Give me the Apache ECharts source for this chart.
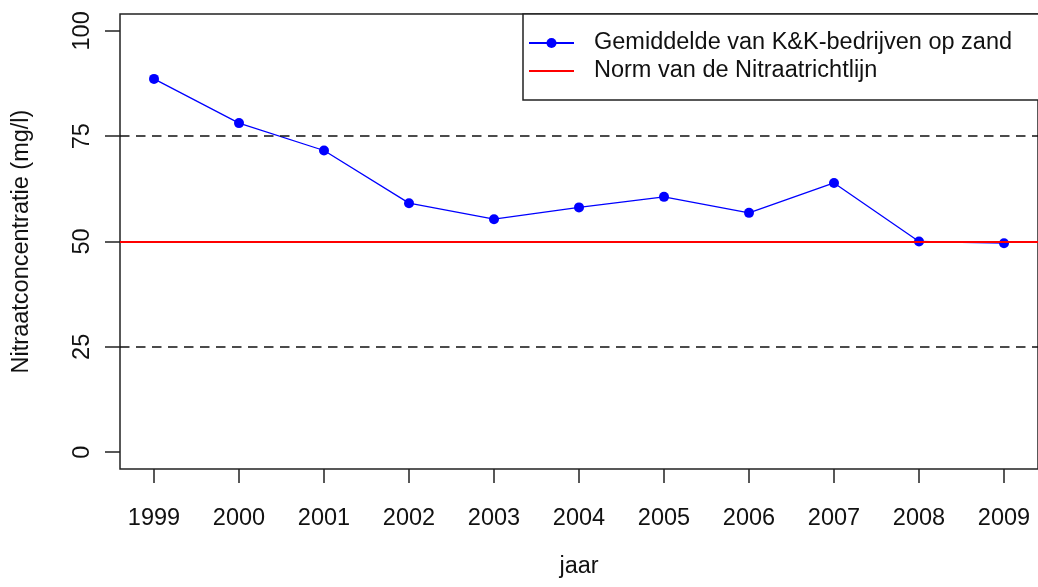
<!DOCTYPE html>
<html>
<head>
<meta charset="utf-8">
<script src="https://cdn.jsdelivr.net/npm/echarts@6/dist/echarts.min.js"></script>
<style>
html, body { margin: 0; padding: 0; background: #fff; }
#chart { width: 1038px; height: 587px; }
</style>
</head>
<body>
<div id="chart"></div>
<script>
// data
const years = [1999, 2000, 2001, 2002, 2003, 2004, 2005, 2006, 2007, 2008, 2009];
const nitrate = [88.6, 78.1, 71.6, 59.1, 55.3, 58.1, 60.6, 56.8, 63.9, 50.0, 49.6];
const normValue = 50;
const refLines = [25, 75];
const yTicks = [0, 25, 50, 75, 100];
const seriesNames = ['Gemiddelde van K&K-bedrijven op zand', 'Norm van de Nitraatrichtlijn'];

const font = '"Liberation Sans", Arial, sans-serif';
const ink = '#111';

const chart = echarts.init(document.getElementById('chart'));

chart.setOption({
    animation: false,
    textStyle: { fontFamily: font },
    grid: {
        left: 120,
        top: 14,
        width: 920,
        height: 455,
        show: true,
        borderColor: '#222',
        borderWidth: 1.5
    },
    legend: {
        data: [
            { name: seriesNames[0] },
            { name: seriesNames[1], icon: 'path://M0,0 L45,0 L45,2 L0,2 Z' }
        ],
        orient: 'vertical',
        left: 523,
        top: 14,
        itemWidth: 45,
        itemHeight: 12.5,
        itemGap: 4,
        padding: [17, 40, 17, 5],
        borderColor: '#222',
        borderWidth: 1.5,
        backgroundColor: '#fff',
        textStyle: {
            fontSize: 23.5,
            color: ink,
            fontFamily: font,
            padding: [0, 0, 0, 15]
        }
    },
    xAxis: {
        type: 'value',
        min: 1998.6,
        max: 2009.4,
        name: 'jaar',
        nameLocation: 'middle',
        nameGap: 86,
        nameTextStyle: { fontSize: 23.5, color: ink, fontFamily: font },
        axisLine: { show: false, onZero: false },
        splitLine: { show: false },
        axisTick: {
            show: true,
            inside: false,
            customValues: years,
            length: 14,
            lineStyle: { color: '#222', width: 1.5 }
        },
        axisLabel: {
            customValues: years,
            formatter: v => String(v),
            margin: 38,
            fontSize: 23.5,
            color: ink,
            fontFamily: font
        }
    },
    yAxis: {
        type: 'value',
        min: -4,
        max: 104,
        name: 'Nitraatconcentratie (mg/l)',
        nameLocation: 'middle',
        nameRotate: 90,
        nameGap: 86,
        nameTextStyle: { fontSize: 23.5, color: ink, fontFamily: font },
        axisLine: { show: false, onZero: false },
        splitLine: { show: false },
        axisTick: {
            show: true,
            customValues: yTicks,
            length: 15,
            lineStyle: { color: '#222', width: 1.5 }
        },
        axisLabel: {
            customValues: yTicks,
            rotate: 90,
            margin: 25,
            fontSize: 23.5,
            color: ink,
            fontFamily: font
        }
    },
    series: [
        {
            name: seriesNames[0],
            type: 'line',
            z: 2,
            data: years.map((y, i) => [y, nitrate[i]]),
            symbol: 'circle',
            symbolSize: 10,
            color: '#0000ff',
            lineStyle: { color: '#0000ff', width: 1.3 }
        },
        {
            name: 'ref',
            type: 'line',
            z: 1,
            data: [],
            markLine: {
                silent: true,
                symbol: ['none', 'none'],
                label: { show: false },
                lineStyle: { color: '#111', type: [9.5, 6.5], width: 1.6 },
                data: refLines.map(v => ({ yAxis: v }))
            }
        },
        {
            name: seriesNames[1],
            type: 'line',
            z: 5,
            data: [],
            symbol: 'none',
            color: '#ff0000',
            lineStyle: { color: '#ff0000', width: 2 },
            markLine: {
                silent: true,
                symbol: ['none', 'none'],
                label: { show: false },
                lineStyle: { color: '#ff0000', type: 'solid', width: 2 },
                data: [{ yAxis: normValue }]
            }
        }
    ]
});
</script>
</body>
</html>
